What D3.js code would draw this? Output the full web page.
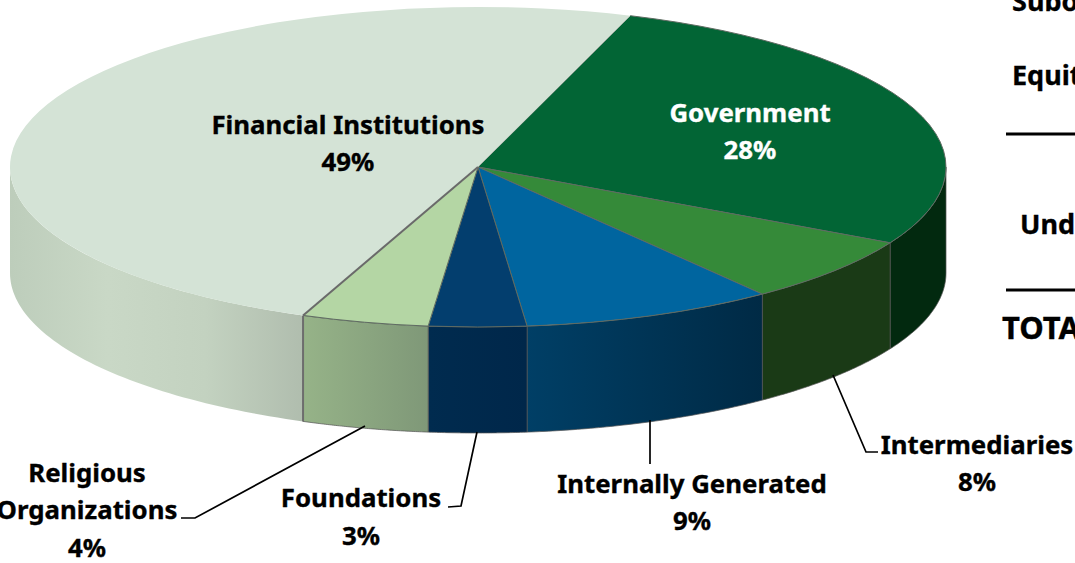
<!DOCTYPE html>
<html><head><meta charset="utf-8">
<script src="https://cdn.jsdelivr.net/npm/d3@7/dist/d3.min.js"></script>
<style>html,body{margin:0;padding:0;background:#fff;overflow:hidden}svg{display:block}
text{font-family:"Noto Sans",sans-serif;font-weight:700;fill:#000}</style></head><body>
<script>
const categories=["Government","Intermediaries","Internally Generated","Foundations","Religious Organizations","Financial Institutions"];
const shares=[27.58,6.75,8.72,3.37,4.4,49.18];
const labels=["28%","8%","9%","3%","4%","49%"];
const topColors=["#026535","#358a39","#00659f","#033e6e","#b4d6a4","#d4e3d6"];
const wallStops=[["#02290f","#02290f"],["#1a3a16","#1a3a16"],["#003f66","#002a45"],["#002b4f","#00274a"],["#96b388","#7f9878"],["#bdcdbb","#c9d8c6","#c3d2c0","#b0bdae"]];
const tableWords=["Subo","Equit","Und","TOTA"];

const W=1075,H=563,cx=478,cy=167,rx=468,ry=160,depth=106;
const svg=d3.select("body").append("svg").attr("width",W).attr("height",H);
const defs=svg.append("defs");
const rad=d=>d*Math.PI/180;
const pie=d3.pie().sort(null).startAngle(rad(19)).endAngle(rad(379));
const arcs=pie(shares);
const px=a=>cx+rx*Math.sin(a), py=a=>cy-ry*Math.cos(a);

// walls
const vis0=rad(90),vis1=rad(270);
const wallLine=d3.line();
arcs.forEach((d,i)=>{
  const lo=Math.max(d.startAngle,vis0),hi=Math.min(d.endAngle,vis1);
  if(hi<=lo)return;
  const ang=d3.range(0,61).map(k=>lo+(hi-lo)*k/60);
  const pts=ang.map(a=>[px(a),py(a)]).concat(ang.slice().reverse().map(a=>[px(a),py(a)+depth]));
  const xs=pts.map(p=>p[0]);
  const g=defs.append("linearGradient").attr("id","w"+i).attr("gradientUnits","userSpaceOnUse")
    .attr("x1",d3.min(xs)).attr("x2",d3.max(xs)).attr("y1",0).attr("y2",0);
  const st=wallStops[i];
  st.forEach((c,k)=>g.append("stop").attr("offset",k/(st.length-1)).attr("stop-color",c));
  svg.append("path").attr("d",wallLine(pts)+"Z").attr("fill",`url(#w${i})`)
    .attr("stroke","#555").attr("stroke-opacity",i===5?0:0.9).attr("stroke-width",0.8);
});
const seam=arcs[5].startAngle;
svg.append("line").attr("x1",px(seam)).attr("y1",py(seam)).attr("x2",px(seam)).attr("y2",py(seam)+depth)
  .attr("stroke","#6d6d6d").attr("stroke-width",2);

// top faces
const arc=d3.arc().innerRadius(0).outerRadius(rx);
svg.append("g").attr("transform",`translate(${cx},${cy}) scale(1,${ry/rx})`)
  .selectAll("path").data(arcs).join("path").attr("d",arc)
  .attr("fill",(d,i)=>topColors[i]).attr("stroke",(d,i)=>i===5?"none":"#5f6b62")
  .attr("stroke-width",1).attr("vector-effect","non-scaling-stroke");
// radial edge along the large slice, on top of its unstroked fill
svg.append("line").attr("x1",cx).attr("y1",cy).attr("x2",px(seam)).attr("y2",py(seam))
  .attr("stroke","#6a6a6a").attr("stroke-width",2);

// leaders
const leaders=[[[833,375],[866,452],[878,452]],[[650,420],[650,464]],[[477,432],[461,506],[448,507]],[[365,426],[195,518],[181,518]]];
const ll=d3.line();
svg.selectAll("path.leader").data(leaders).join("path").attr("class","leader").attr("d",ll)
  .attr("fill","none").attr("stroke","#000").attr("stroke-width",1.7);

// labels
const fs=25.8;
function lab(x,ys,lines,fill){
  const t=svg.append("text").attr("text-anchor","middle").attr("font-size",fs)
    .style("fill",fill||"#000").style("stroke",fill||"#000").style("stroke-width",0.35);
  lines.forEach((s,i)=>t.append("tspan").attr("x",x).attr("y",ys[i]).text(s));
}
lab(750,[122,159],[categories[0],labels[0]],"#fff");
lab(977,[454,491],[categories[1],labels[1]]);
lab(692,[493,530],[categories[2],labels[2]]);
lab(361,[507,545],[categories[3],labels[3]]);
lab(87,[482,519,557],["Religious","Organizations",labels[4]]);
lab(348,[134,171],[categories[5],labels[5]]);

// cropped table at the right edge
[[1012,11,27],[1012,85,27],[1020,234,27],[1002,339,31]].forEach((p,i)=>
  svg.append("text").attr("x",p[0]).attr("y",p[1]).attr("font-size",p[2]).style("stroke","#000").style("stroke-width",0.35).text(tableWords[i]));
[134,290].forEach(y=>svg.append("line").attr("x1",1006).attr("x2",W).attr("y1",y).attr("y2",y).attr("stroke","#000").attr("stroke-width",3));
</script></body></html>
